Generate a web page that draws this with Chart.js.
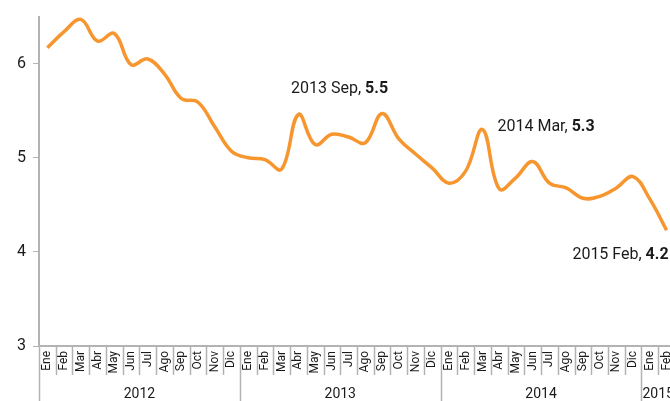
<!DOCTYPE html>
<html>
<head>
<meta charset="utf-8">
<script src="https://cdn.jsdelivr.net/npm/chart.js@4"></script>
<style>
  html, body { margin: 0; padding: 0; background: #fff; overflow: hidden; }
  /* the reference cuts the last year off at the right edge, so the chart runs past the window */
  #wrap { width: 686px; height: 401px; }
</style>
</head>
<body>
<div id="wrap"><canvas id="myChart"></canvas></div>
<script>
// Month names and years for the x axis
const monthNames = ['Ene', 'Feb', 'Mar', 'Abr', 'May', 'Jun', 'Jul', 'Ago', 'Sep', 'Oct', 'Nov', 'Dic'];
const years = [2012, 2013, 2014, 2015];
const monthsInLastYear = 2;

// Series values (Ene 2012 .. Feb 2015)
const values = [
  6.17, 6.34, 6.47, 6.24, 6.32, 5.99, 6.05, 5.89, 5.63, 5.59, 5.33, 5.07,
  5.00, 4.98, 4.88, 5.46, 5.14, 5.25, 5.22, 5.16, 5.47, 5.20, 5.04, 4.89,
  4.73, 4.86, 5.30, 4.67, 4.79, 4.96, 4.73, 4.68, 4.57, 4.59, 4.68, 4.80,
  4.56, 4.23
];

// Y tick values
const yTicks = [3, 4, 5, 6];

// Callouts: point index, text, shown value
const callouts = [
  { index: 20, text: '2013 Sep, ', value: '5.5' },
  { index: 26, text: '2014 Mar, ', value: '5.3' },
  { index: 37, text: '2015 Feb, ', value: '4.2' }
];
// where each callout sits relative to its point
const calloutStyle = [
  { dx: 6, dy: -21, align: 'right' },
  { dx: 15, dy: 1, align: 'left' },
  { dx: 2, dy: 29, align: 'right' }
];

// Build labels and the year of each point
const labels = [];
const pointYears = [];
years.forEach(function(y, yi) {
  const n = yi === years.length - 1 ? monthsInLastYear : 12;
  for (let m = 0; m < n; m++) {
    labels.push(monthNames[m]);
    pointYears.push(y);
  }
});

const FONT = 'Roboto, "DejaVu Sans", sans-serif';
const AXIS_GREY = '#b3b3b3';
const TEXT = '#1a1a1a';

// Draws month separators, year separators and year labels under the x axis
const yearAxisPlugin = {
  id: 'yearAxis',
  afterDraw(chart) {
    const ctx = chart.ctx;
    const x = chart.scales.x;
    const top = x.top;
    const step = x.getPixelForValue(1) - x.getPixelForValue(0);
    ctx.save();
    ctx.strokeStyle = AXIS_GREY;
    ctx.lineWidth = 1.5;
    for (let i = 0; i < labels.length; i++) {
      const bx = Math.round(x.getPixelForValue(i) - step / 2) + 0.5;
      const newYear = i === 0 || pointYears[i] !== pointYears[i - 1];
      ctx.beginPath();
      ctx.moveTo(bx, top);
      ctx.lineTo(bx, newYear ? chart.height : top + 29);
      ctx.stroke();
    }
    // year labels
    ctx.fillStyle = TEXT;
    ctx.font = '14px ' + FONT;
    ctx.textAlign = 'center';
    ctx.textBaseline = 'alphabetic';
    years.forEach(function(y) {
      const first = pointYears.indexOf(y);
      const last = pointYears.lastIndexOf(y);
      const left = x.getPixelForValue(first) - step / 2;
      const right = x.getPixelForValue(last) + step / 2;
      ctx.fillText(String(y), (left + right) / 2, top + 52);
    });
    ctx.restore();
  }
};

// Draws the text callouts next to points
const calloutPlugin = {
  id: 'callouts',
  afterDatasetsDraw(chart) {
    const ctx = chart.ctx;
    const meta = chart.getDatasetMeta(0);
    ctx.save();
    ctx.fillStyle = TEXT;
    ctx.textBaseline = 'alphabetic';
    callouts.forEach(function(c, k) {
      const s = calloutStyle[k];
      const pt = meta.data[c.index];
      const normal = '16px ' + FONT;
      const bold = 'bold 16px ' + FONT;
      ctx.font = normal;
      const w1 = ctx.measureText(c.text).width;
      ctx.font = bold;
      const w2 = ctx.measureText(c.value).width;
      let start = pt.x + s.dx;
      if (s.align === 'right') start -= (w1 + w2);
      const base = pt.y + s.dy;
      ctx.textAlign = 'left';
      ctx.font = normal;
      ctx.fillText(c.text, start, base);
      ctx.font = bold;
      ctx.fillText(c.value, start + w1, base);
    });
    ctx.restore();
  }
};

const canvas = document.getElementById('myChart');
const ctx = canvas.getContext('2d');

const myChart = new Chart(ctx, {
  type: 'line',
  data: {
    labels: labels,
    datasets: [{
      data: values,
      borderColor: '#f7962f',
      borderWidth: 3.5,
      pointRadius: 0,
      tension: 0.4,
      fill: false
    }]
  },
  options: {
    responsive: true,
    maintainAspectRatio: false,
    animation: false,
    layout: { padding: { top: 15, right: 0, left: 0, bottom: 0 } },
    plugins: {
      legend: { display: false },
      tooltip: { enabled: false }
    },
    scales: {
      x: {
        type: 'category',
        offset: true,
        grid: { display: false, drawTicks: false },
        border: { display: true, color: AXIS_GREY, width: 2 },
        ticks: {
          autoSkip: false,
          minRotation: 90,
          maxRotation: 90,
          padding: 5,
          color: TEXT,
          font: { family: FONT, size: 12 }
        },
        afterFit: function(scale) { scale.height = 55; }
      },
      y: {
        min: 3,
        max: 6.5,
        grid: {
          drawOnChartArea: false,
          drawTicks: true,
          tickLength: 6,
          color: AXIS_GREY,
          lineWidth: 1
        },
        border: { display: true, color: AXIS_GREY, width: 2 },
        ticks: {
          stepSize: 1,
          padding: 7,
          color: TEXT,
          font: { family: FONT, size: 16 }
        },
        afterBuildTicks: function(scale) {
          scale.ticks = yTicks.map(function(v) { return { value: v }; });
        },
        afterFit: function(scale) { scale.width = 39; }
      }
    }
  },
  plugins: [yearAxisPlugin, calloutPlugin]
});
</script>
</body>
</html>
